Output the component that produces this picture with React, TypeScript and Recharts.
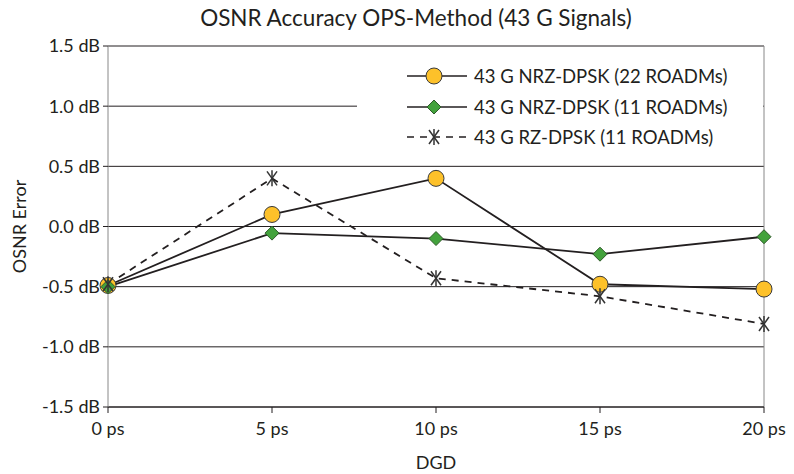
import React from "react";
import {
  LineChart,
  Line,
  XAxis,
  YAxis,
  CartesianGrid,
  Legend,
  ReferenceLine,
} from "recharts";

// DGD in ps
const dgd = [0, 5, 10, 15, 20];
// OSNR error in dB
const nrz22 = [-0.49, 0.1, 0.4, -0.48, -0.52];
const nrz11 = [-0.5, -0.055, -0.1, -0.23, -0.085];
const rz11 = [-0.48, 0.4, -0.43, -0.58, -0.81];

const yTicks = [-1.5, -1.0, -0.5, 0, 0.5, 1.0, 1.5];

const seriesNames = {
  nrz22: "43 G NRZ-DPSK (22 ROADMs)",
  nrz11: "43 G NRZ-DPSK (11 ROADMs)",
  rz11: "43 G RZ-DPSK (11 ROADMs)",
};

const data = dgd.map((d, i) => ({
  dgd: d,
  nrz22: nrz22[i],
  nrz11: nrz11[i],
  rz11: rz11[i],
}));

const FONT = "Lato, 'Open Sans', sans-serif";
const INK = "#231f20";
const YELLOW = "#fdc12a";
const GREEN = "#43a23c";

function CircleMark({ cx, cy }: { cx: number; cy: number }) {
  return <circle cx={cx} cy={cy} r={8} fill={YELLOW} stroke="#3a3a3a" strokeWidth={1} />;
}

function DiamondMark({ cx, cy }: { cx: number; cy: number }) {
  const s = 7;
  return (
    <polygon
      points={`${cx},${cy - s} ${cx + s},${cy} ${cx},${cy + s} ${cx - s},${cy}`}
      fill={GREEN}
      stroke="#2f5a2a"
      strokeWidth={1}
    />
  );
}

function StarMark({ cx, cy }: { cx: number; cy: number }) {
  return (
    <g stroke="#333" strokeWidth={1.5} fill="none">
      <line x1={cx} y1={cy - 8} x2={cx} y2={cy + 8} />
      <line x1={cx - 5} y1={cy - 7} x2={cx + 5} y2={cy + 7} />
      <line x1={cx + 5} y1={cy - 7} x2={cx - 5} y2={cy + 7} />
    </g>
  );
}

const markFor: Record<string, (p: { cx: number; cy: number }) => React.ReactElement> = {
  nrz22: CircleMark,
  nrz11: DiamondMark,
  rz11: StarMark,
};

const renderDot = (key: string) => (props: any) => {
  const Mark = markFor[key];
  if (props.cx == null || props.cy == null) return <g key={props.index} />;
  return <Mark key={`${key}-${props.index}`} cx={props.cx} cy={props.cy} />;
};

function LegendBox() {
  const keys = ["nrz22", "nrz11", "rz11"] as const;
  return (
    <div style={{ background: "#fff", paddingTop: 9, height: 108, boxSizing: "border-box" }}>
      {keys.map((k) => {
        const Mark = markFor[k];
        return (
          <div key={k} style={{ display: "flex", alignItems: "center", height: 30.5 }}>
            <svg width={117} height={24} style={{ flex: "none" }}>
              <line
                x1={50}
                y1={12}
                x2={110}
                y2={12}
                stroke={INK}
                strokeWidth={1.7}
                strokeDasharray={k === "rz11" ? "7 6" : undefined}
              />
              <Mark cx={77} cy={12} />
            </svg>
            <span style={{ fontFamily: FONT, fontSize: 18.5, color: INK, whiteSpace: "nowrap" }}>
              {seriesNames[k]}
            </span>
          </div>
        );
      })}
    </div>
  );
}

export default function App() {
  return (
    <div style={{ position: "absolute", left: 0, top: 0, width: 794, height: 474, background: "#fff" }}>
      <div
        style={{
          position: "absolute",
          left: 416,
          top: 4,
          transform: "translateX(-50%)",
          fontFamily: FONT,
          fontSize: 22.5,
          lineHeight: "28px",
          color: INK,
          whiteSpace: "nowrap",
          zIndex: 2,
        }}
      >
        OSNR Accuracy OPS-Method (43 G Signals)
      </div>
      <LineChart
        width={794}
        height={474}
        data={data}
        margin={{ top: 46, right: 30, left: 0, bottom: 0 }}
        style={{ fontFamily: FONT }}
      >
        <CartesianGrid vertical={false} stroke={INK} strokeWidth={1} />
        <XAxis
          type="number"
          dataKey="dgd"
          domain={[0, 20]}
          ticks={dgd}
          tickFormatter={(v: number) => `${v} ps`}
          height={67}
          axisLine={{ stroke: INK }}
          tickLine={{ stroke: INK }}
          tickSize={6}
          tickMargin={9}
          tick={{ fontSize: 18, fill: INK }}
          label={{ value: "DGD", position: "insideBottom", offset: 5, fontSize: 18, fill: INK }}
        />
        <YAxis
          domain={[-1.5, 1.5]}
          ticks={yTicks}
          tickFormatter={(v: number) => `${v.toFixed(1)} dB`}
          width={108}
          axisLine={{ stroke: "#888" }}
          tickLine={{ stroke: INK }}
          tickSize={5}
          tickMargin={3}
          tick={{ fontSize: 18, fill: INK }}
          label={{
            value: "OSNR Error",
            angle: -90,
            position: "insideLeft",
            offset: 20,
            fontSize: 18,
            fill: INK,
            style: { textAnchor: "middle" },
          }}
        />
        <ReferenceLine x={20} stroke="#888" />
        <Legend
          layout="horizontal"
          verticalAlign="middle"
          align="center"
          content={<LegendBox />}
          wrapperStyle={{ position: "absolute", left: 357, top: 52, width: 406, height: 108 }}
        />
        <Line
          dataKey="nrz22"
          name={seriesNames.nrz22}
          stroke={INK}
          strokeWidth={1.8}
          dot={renderDot("nrz22")}
          activeDot={false}
          isAnimationActive={false}
        />
        <Line
          dataKey="nrz11"
          name={seriesNames.nrz11}
          stroke={INK}
          strokeWidth={1.8}
          dot={renderDot("nrz11")}
          activeDot={false}
          isAnimationActive={false}
        />
        <Line
          dataKey="rz11"
          name={seriesNames.rz11}
          stroke={INK}
          strokeWidth={1.8}
          strokeDasharray="7 6"
          dot={renderDot("rz11")}
          activeDot={false}
          isAnimationActive={false}
        />
      </LineChart>
    </div>
  );
}
